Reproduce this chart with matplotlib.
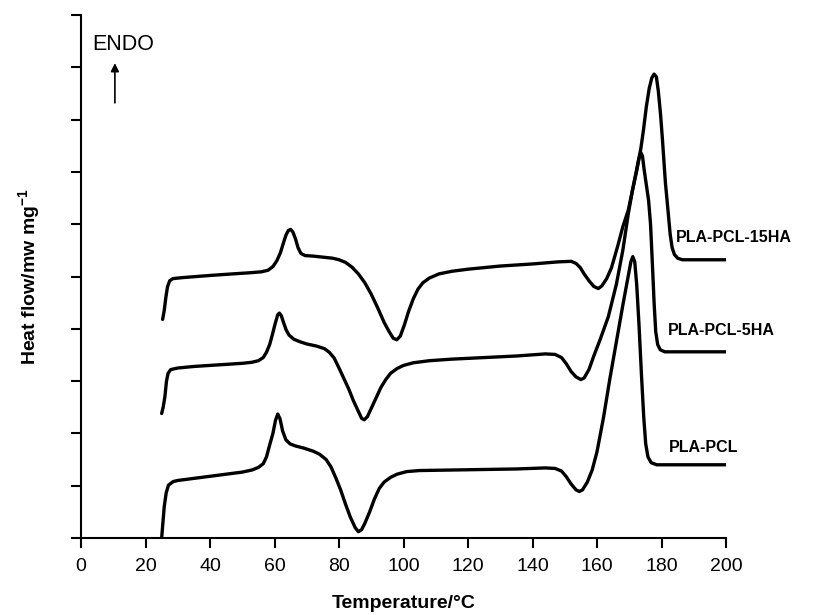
import matplotlib
matplotlib.use('Agg')
import matplotlib.pyplot as plt
import numpy as np

plt.rcParams['font.family'] = ['Liberation Sans', 'DejaVu Sans']
plt.rcParams['mathtext.fontset'] = 'custom'
plt.rcParams['mathtext.rm'] = 'Liberation Sans'
plt.rcParams['mathtext.bf'] = 'Liberation Sans:bold'

# DSC heating curves, stacked (heat flow offset per sample)
pla_pcl_T = [25.0, 25.2, 25.8, 26.4, 27.1, 28.6, 30.0, 35.0, 40.0, 45.0, 50.0, 53.0,
             55.0, 56.5, 57.5, 58.5, 59.5, 60.3, 61.0, 61.7, 62.5, 63.5, 64.8, 66.5,
             69.0, 72.0, 74.0, 76.0, 77.5, 79.0, 80.5, 82.0, 83.5, 85.0, 86.0, 87.0,
             88.0, 89.5, 91.0, 92.5, 94.0, 96.0, 98.0, 101.0, 105.0, 115.0, 125.0,
             135.0, 144.0, 147.0, 149.0, 150.5, 152.0, 153.5, 154.5, 155.5, 157.0,
             158.5, 160.0, 162.0, 164.0, 166.0, 168.0, 169.5, 170.5, 171.1, 171.7,
             172.3, 173.0, 173.8, 174.5, 175.1, 175.8, 176.8, 178.5, 200.0]
pla_pcl_hf = [0.0, 0.15, 0.60, 0.86, 1.01, 1.08, 1.10, 1.14, 1.18, 1.22, 1.26, 1.30,
              1.35, 1.42, 1.55, 1.78, 2.00, 2.25, 2.37, 2.28, 2.05, 1.88, 1.80, 1.76,
              1.72, 1.66, 1.60, 1.50, 1.36, 1.15, 0.92, 0.65, 0.40, 0.20, 0.12, 0.16,
              0.28, 0.50, 0.75, 0.95, 1.07, 1.16, 1.22, 1.27, 1.29, 1.30, 1.31,
              1.32, 1.34, 1.33, 1.28, 1.17, 1.03, 0.92, 0.89, 0.92, 1.07,
              1.30, 1.65, 2.30, 3.05, 3.75, 4.45, 4.95, 5.28, 5.38, 5.28,
              4.85, 4.10, 3.10, 2.30, 1.80, 1.55, 1.44, 1.40, 1.40]

pla_pcl_5ha_T = [25.0, 25.5, 26.0, 26.5, 27.0, 27.8, 30.0, 35.0, 40.0, 45.0, 50.0, 53.0,
                 55.0, 56.5, 57.5, 58.5, 59.3, 60.2, 61.0, 61.5, 62.1, 62.8, 63.6, 64.5,
                 66.0, 68.0, 70.0, 73.0, 75.5, 77.0, 78.5, 80.0, 81.5, 83.0, 84.5, 86.0,
                 87.0, 87.8, 88.8, 90.0, 91.5, 93.0, 94.5, 96.0, 98.0, 100.0, 103.0,
                 108.0, 115.0, 125.0, 135.0, 144.0, 147.0, 149.0, 150.5, 152.0, 153.5,
                 155.0, 156.0, 157.5, 159.0, 161.0, 163.5, 166.0, 168.0, 169.7, 171.0,
                 172.3, 173.0, 173.6, 174.1, 174.6, 175.3, 176.0, 176.6, 177.2, 177.7,
                 178.2, 178.8, 179.6, 181.0, 200.0]
pla_pcl_5ha_hf = [2.38, 2.51, 2.70, 3.00, 3.15, 3.22, 3.25, 3.28, 3.30, 3.32, 3.34, 3.36,
                  3.39, 3.45, 3.55, 3.70, 3.88, 4.10, 4.27, 4.30, 4.25, 4.12, 3.98, 3.88,
                  3.80, 3.75, 3.71, 3.67, 3.62, 3.55, 3.44, 3.25, 3.05, 2.85, 2.62, 2.42,
                  2.29, 2.26, 2.32, 2.48, 2.68, 2.88, 3.03, 3.15, 3.24, 3.30, 3.35,
                  3.39, 3.42, 3.45, 3.48, 3.52, 3.51, 3.45, 3.33, 3.18, 3.08,
                  3.03, 3.06, 3.22, 3.48, 3.80, 4.23, 4.85, 5.50, 6.20, 6.65,
                  7.02, 7.25, 7.37, 7.30, 7.05, 6.75, 6.45, 6.00, 5.20, 4.50,
                  3.95, 3.70, 3.60, 3.56, 3.56]

pla_pcl_15ha_T = [25.3, 25.8, 26.3, 26.8, 27.5, 28.5, 31.7, 40.0, 47.0, 52.0, 56.0, 58.0,
                  59.5, 60.7, 61.8, 62.8, 63.6, 64.3, 65.0, 65.7, 66.5, 67.3, 68.2, 69.5,
                  72.0, 75.0, 78.0, 80.0, 82.0, 84.0, 86.0, 88.0, 90.0, 92.0, 94.0, 95.5,
                  96.8, 97.9, 99.0, 100.3, 101.5, 103.0, 104.5, 106.0, 108.0, 111.0,
                  115.0, 120.0, 125.0, 130.0, 140.0, 148.0, 152.0, 153.5, 154.8, 156.0,
                  157.5, 159.0, 160.4, 161.5, 163.0, 164.5, 166.5, 168.0, 169.7, 171.0,
                  172.3, 173.6, 174.4, 175.3, 176.2, 177.0, 177.7, 178.4, 179.0, 179.7,
                  180.3, 181.2, 182.0, 182.7, 183.3, 184.0, 185.0, 186.5, 200.0]
pla_pcl_15ha_hf = [4.18, 4.35, 4.60, 4.80, 4.92, 4.96, 4.98, 5.02, 5.05, 5.07, 5.09, 5.12,
                   5.19, 5.30, 5.45, 5.65, 5.80, 5.88, 5.90, 5.85, 5.72, 5.55, 5.44, 5.40,
                   5.39, 5.37, 5.35, 5.32, 5.27, 5.18, 5.05, 4.88, 4.66, 4.40, 4.12, 3.95,
                   3.82, 3.79, 3.86, 4.08, 4.32, 4.57, 4.76, 4.88, 4.97, 5.05,
                   5.10, 5.14, 5.17, 5.20, 5.24, 5.28, 5.29, 5.25, 5.17, 5.05,
                   4.92, 4.81, 4.77, 4.82, 4.96, 5.17, 5.60, 5.95, 6.27, 6.65,
                   7.05, 7.45, 7.80, 8.25, 8.60, 8.80, 8.87, 8.82, 8.55, 8.10,
                   7.61, 6.80, 6.27, 5.80, 5.55, 5.42, 5.35, 5.32, 5.32]

curve_names = ['PLA-PCL', 'PLA-PCL-5HA', 'PLA-PCL-15HA']
label_x = [182.3, 182.0, 184.5]
label_y = [1.74, 3.96, 5.74]

fig = plt.figure(figsize=(8.21, 6.15), dpi=100)
ax = fig.add_axes([0.0987, 0.1252, 0.7856, 0.8504])

for T, hf in [(pla_pcl_T, pla_pcl_hf), (pla_pcl_5ha_T, pla_pcl_5ha_hf),
              (pla_pcl_15ha_T, pla_pcl_15ha_hf)]:
    ax.plot(T, hf, color='black', lw=2.4, solid_joinstyle='round',
            solid_capstyle='round')

for name, lx, ly in zip(curve_names, label_x, label_y):
    ax.text(lx, ly, name, fontsize=11.5, fontweight='bold', va='center', ha='left')

ax.text(3.4, 9.43, 'ENDO', fontsize=15.5, va='center', ha='left')
ax.annotate('', xy=(10.5, 9.08), xytext=(10.5, 8.32),
            arrowprops=dict(arrowstyle='-|>', color='black', lw=1.2,
                            mutation_scale=12, shrinkA=0, shrinkB=0))

ax.set_xlim(0, 200)
ax.set_ylim(0, 10)
ax.set_xticks(np.arange(0, 201, 20))
ax.set_yticks(np.arange(0, 11, 1))
ax.set_yticklabels([])
for side in ['top', 'right']:
    ax.spines[side].set_visible(False)
for side in ['left', 'bottom']:
    ax.spines[side].set_linewidth(1.5)
ax.tick_params(direction='out', length=7.5, width=1.5, labelsize=14, pad=7)

ax.set_xlabel('Temperature/°C', fontsize=14, fontweight='bold', labelpad=14)
ax.set_ylabel(r'Heat flow/mw mg$^{\mathbf{-1}}$', fontsize=14, fontweight='bold')
ax.yaxis.set_label_coords(-0.059, 0.5)

fig.savefig('out.png', dpi=100)
